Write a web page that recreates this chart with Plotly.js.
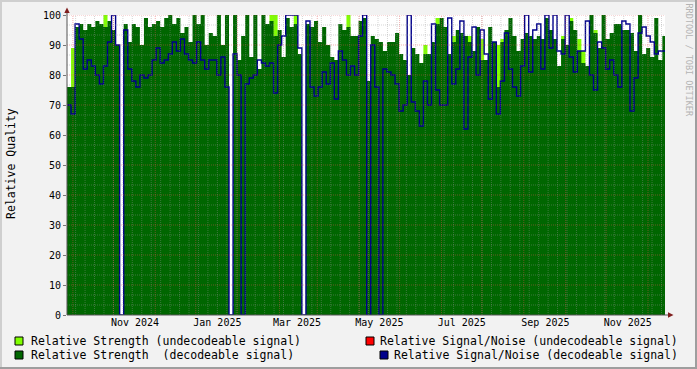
<!DOCTYPE html>
<html><head><meta charset="utf-8">
<script src="https://cdn.plot.ly/plotly-3.0.1.min.js"></script>
<style>html,body{margin:0;padding:0;background:#f2f2f2;} #chart{width:697px;height:369px;}</style>
</head><body><div id="chart"></div>
<script>
// ---- data (3-day bins starting at startTime) ----
const startTime = '2024-09-11T15:00:00';
const stepDays = 3;
const rangeStart = '2024-09-11 15:00';
const rangeEnd = '2025-11-28 14:00';

const strengthDecodeable = [
 76,76,96,97,95,97,96,98,97,96, 98,95,90,0,97,91,97,96,90,99,
 96,97,98,96,99,100,97,99,94,96, 91,100,97,100,90,94,93,100,90,100,
 0,100,85,93,100,86,100,82,100,97, 98,93,95,86,99,96,97,87,0,97,
 96,98,91,96,90,86,85,97,95,96, 93,93,98,99,78,93,92,91,88,91,
 91,94,87,85,80,89,87,84,87,87, 91,97,99,96,87,91,95,94,93,91,
 88,96,85,85,96,91,76,91,95,99, 93,88,92,94,93,92,93,92,99,95,
 92,83,92,90,98,95,88,84,83,100, 94,89,100,92,94,97,97,95,95,94,
 88,100,87,89,86,99,85,93,93
];
const strengthUndecodeable = [
 0,89,0,0,0,0,0,0,0,100, 0,0,0,0,0,0,0,0,0,0,
 0,0,0,0,0,0,0,0,0,0, 0,0,0,0,0,0,0,0,0,0,
 0,0,0,0,0,0,0,0,0,0, 100,100,0,0,0,0,100,0,0,0,
 0,0,0,0,0,0,0,0,0,100, 0,0,0,0,0,0,0,0,0,0,
 0,0,0,0,0,0,0,0,90,0, 0,99,0,0,0,93,0,0,0,93,
 0,0,92,0,0,0,90,92,0,0, 0,0,0,0,0,0,0,0,0,0,
 0,0,93,0,99,0,92,88,0,0, 95,0,0,0,0,0,0,0,0,0,
 0,0,0,0,0,0,0,0,0
];
const snrDecodeable = [
 70,67,97,92,82,85,83,80,77,83, 91,100,90,0,95,82,78,76,80,79,
 80,85,89,84,85,87,91,88,92,87, 85,84,91,85,82,85,85,80,86,76,
 0,87,80,0,77,79,80,85,84,83, 84,74,90,93,100,100,100,89,0,98,
 76,73,76,81,77,84,72,88,85,80, 83,80,93,100,0,90,76,0,82,81,
 80,77,68,70,100,71,68,63,78,70, 97,75,70,70,99,77,82,98,62,86,
 96,80,95,87,72,91,67,78,94,82, 76,73,83,100,81,95,97,82,100,89,
 100,88,87,100,86,81,88,88,98,80, 75,91,89,82,85,80,76,98,97,68,
 79,94,96,93,91,87,88,88,90
];
const snrUndecodeable = [];
const yTicks = [0,10,20,30,40,50,60,70,80,90,100];
const xTickStart = '2024-11-01';
const legendLabels = [
 'Relative Strength (undecodeable signal)',
 'Relative Strength \u00a0(decodeable signal)',
 'Relative Signal/Noise (undecodeable signal)',
 'Relative Signal/Noise (decodeable signal)'
];

// ---- helpers ----
const W = 697, H = 369, L = 67, R = 665, T = 15, B = 315;
const px = x => (x - L) / (R - L);
const py = y => (B - y) / (B - T);
const mono = 'DejaVu Sans Mono, monospace';
const t0 = Date.parse(startTime + 'Z');
const fmt = ms => new Date(ms).toISOString().slice(0, 19).replace('T', ' ');
const dates = strengthDecodeable.map((_, i) => fmt(t0 + i * stepDays * 86400000));

const cDark = '#006600', cLight = '#80ff00', cBlue = '#00008b', cRed = '#ff0000';

const traces = [
 {x: dates, y: strengthUndecodeable, type: 'scatter', mode: 'lines', line: {shape: 'hv', width: 0, color: cLight}, fill: 'tozeroy', fillcolor: cLight, hoverinfo: 'skip'},
 {x: dates, y: strengthDecodeable, type: 'scatter', mode: 'lines', line: {shape: 'hv', width: 0, color: cDark}, fill: 'tozeroy', fillcolor: cDark, hoverinfo: 'skip'},
 {x: dates, y: snrDecodeable, type: 'scatter', mode: 'lines', line: {shape: 'hv', width: 1.4, color: cBlue}, hoverinfo: 'skip'}
];

// ---- grid (drawn above the data like rrdtool) ----
const shapes = [];
const minorCol = 'rgba(150,150,150,0.4)', majorCol = 'rgba(222,79,79,0.45)';
for (let k = 1; k < 30; k++) {
  if (k % 3 === 0) continue;
  const v = k * 10 / 3;
  shapes.push({type: 'line', xref: 'paper', yref: 'y', x0: 0, x1: 1, y0: v, y1: v, layer: 'above', line: {color: minorCol, width: 1, dash: '1px,1px'}});
}
const endMs = Date.parse(rangeEnd.replace(' ', 'T') + ':00Z');
for (let ms = Date.parse('2024-09-11T00:00:00Z'); ms < endMs; ms += 7 * 86400000) {
  shapes.push({type: 'line', xref: 'x', yref: 'paper', x0: fmt(ms), x1: fmt(ms), y0: 0, y1: 1, layer: 'above', line: {color: minorCol, width: 1, dash: '1px,1px'}});
}
for (let m = 8; m <= 22; m++) {
  const d = new Date(Date.UTC(2024, m, 16));
  if (d.getTime() > endMs) break;
  const s = fmt(d.getTime());
  shapes.push({type: 'line', xref: 'x', yref: 'paper', x0: s, x1: s, y0: 0, y1: 1, layer: 'above', line: {color: majorCol, width: 1, dash: '1px,1px'}});
}
yTicks.forEach(v => {
  if (v === 0) return;
  shapes.push({type: 'line', xref: 'paper', yref: 'y', x0: 0, x1: 1, y0: v, y1: v, layer: 'above', line: {color: majorCol, width: 1, dash: '1px,1px'}});
});

// axes + arrows
const axCol = '#555555', arrowCol = '#801f1f';
shapes.push({type: 'line', xref: 'paper', yref: 'paper', x0: 0, x1: 0, y0: 0, y1: py(12), layer: 'above', line: {color: axCol, width: 1}});
shapes.push({type: 'line', xref: 'paper', yref: 'paper', x0: 0, x1: px(669), y0: 0, y1: 0, layer: 'above', line: {color: axCol, width: 1}});
shapes.push({type: 'path', xref: 'paper', yref: 'paper', layer: 'above', fillcolor: arrowCol, line: {width: 0},
  path: `M ${px(67)},${py(7.5)} L ${px(64.3)},${py(13)} L ${px(69.7)},${py(13)} Z`});
shapes.push({type: 'path', xref: 'paper', yref: 'paper', layer: 'above', fillcolor: arrowCol, line: {width: 0},
  path: `M ${px(673.5)},${py(315)} L ${px(668)},${py(312.3)} L ${px(668)},${py(317.7)} Z`});

// outer 3D frame
const shadeA = '#cfcfcf', shadeB = '#9e9e9e';
const rect = (x0, y0, x1, y1, c) => ({type: 'rect', xref: 'paper', yref: 'paper', x0: px(x0), x1: px(x1), y0: py(y1), y1: py(y0), fillcolor: c, line: {width: 0}, layer: 'below'});
shapes.push(rect(0, 0, W, 2, shadeA));
shapes.push(rect(0, 0, 2, H, shadeA));
shapes.push(rect(0, H - 2, W, H, shadeB));
shapes.push(rect(W - 2, 0, W, H, shadeB));

// legend boxes
const box = (x0, y0, c) => ({type: 'rect', xref: 'paper', yref: 'paper', x0: px(x0), x1: px(x0 + 8), y0: py(y0 + 8), y1: py(y0), fillcolor: c, line: {color: '#000', width: 1}});
shapes.push(box(15, 337, cLight));
shapes.push(box(15, 351, cDark));
shapes.push(box(366, 337, cRed));
shapes.push(box(380, 351, cBlue));

const ann = (text, x, y, opts) => Object.assign({text, xref: 'paper', yref: 'paper', x: px(x), y: py(y), showarrow: false, xanchor: 'left', yanchor: 'middle', font: {family: mono, size: 11.5, color: '#000'}}, opts || {});
const annotations = [
  ann(legendLabels[0], 28.5, 341),
  ann(legendLabels[1], 28.5, 355),
  ann(legendLabels[2], 378, 341),
  ann(legendLabels[3], 392, 355),
  ann('Relative Quality', 11, 164, {xanchor: 'center', textangle: -90}),
  ann('RRDTOOL / TOBI OETIKER', 688.5, 60, {xanchor: 'center', textangle: 90, font: {family: mono, size: 8.5, color: '#b4b4b4'}})
];

const layout = {
  width: W, height: H,
  margin: {l: L, r: W - R, t: T, b: H - B, pad: 0},
  paper_bgcolor: '#f2f2f2', plot_bgcolor: '#ffffff',
  showlegend: false,
  font: {family: mono, size: 10, color: '#000'},
  xaxis: {type: 'date', range: [rangeStart, rangeEnd], showgrid: false, zeroline: false, showline: false,
    ticks: '', tickformat: '%b %Y', dtick: 'M2', tick0: xTickStart, tickfont: {family: mono, size: 10, color: '#000'}, fixedrange: true},
  yaxis: {range: [0, 100], tickvals: yTicks, showgrid: false, zeroline: false, showline: false,
    ticks: 'outside', ticklen: 3, tickcolor: '#777', tickfont: {family: mono, size: 10, color: '#000'}, fixedrange: true},
  shapes, annotations
};

Plotly.newPlot('chart', traces, layout, {staticPlot: true, displayModeBar: false});
</script>
</body></html>
